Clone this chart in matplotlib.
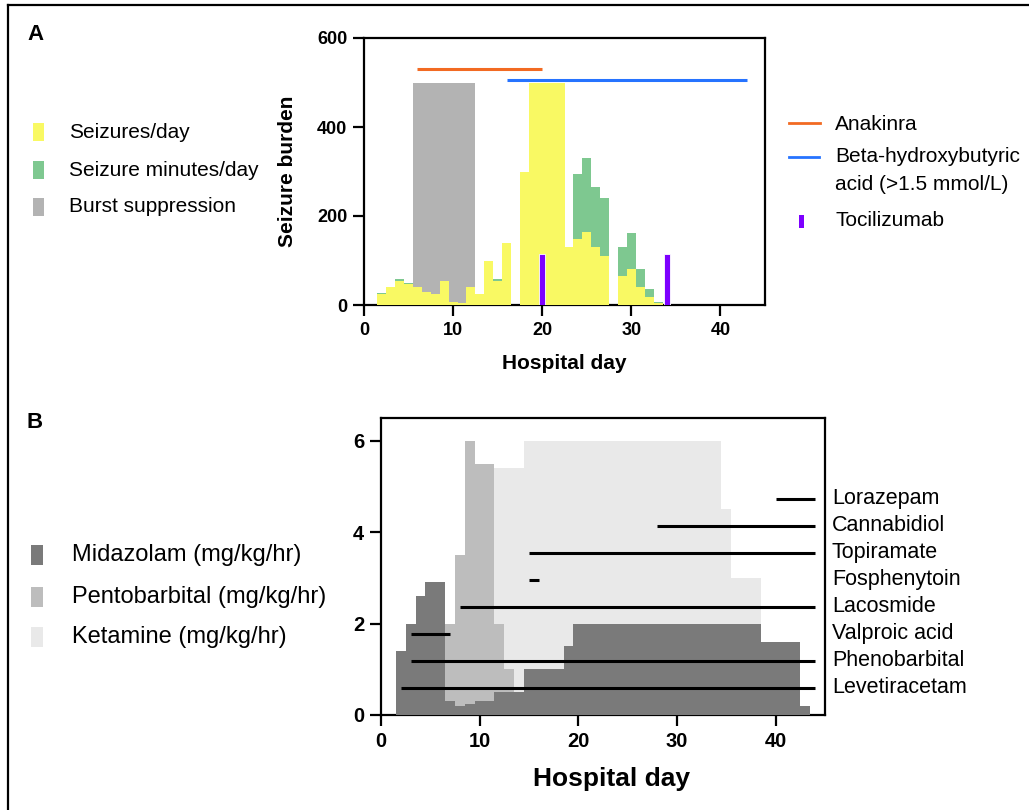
import numpy as np
import matplotlib
matplotlib.use("Agg")
import matplotlib.pyplot as plt
from matplotlib.patches import Rectangle
from matplotlib.lines import Line2D

plt.rcParams['font.family'] = ['Liberation Sans', 'DejaVu Sans']

# ---- Panel A data (hospital days 1..43) ----
days_a = np.arange(1, 44)
seizures_per_day = [0, 25, 40, 55, 47, 40, 29, 25, 55, 6,
                    5, 40, 25, 100, 55, 140, 0, 300, 500, 500,
                    500, 500, 130, 148, 165, 131, 111, 0, 66, 81,
                    40, 19, 4, 0, 0, 0, 0, 0, 0, 0,
                    0, 0, 0]
seizure_minutes = [0, 28, 0, 58, 50, 0, 0, 0, 0, 0,
                   0, 0, 0, 0, 58, 0, 0, 0, 0, 0,
                   0, 0, 0, 295, 331, 265, 240, 0, 131, 161,
                   81, 36, 7, 0, 0, 0, 0, 0, 0, 0,
                   0, 0, 0]
burst_days = [6, 7, 8, 9, 10, 11, 12]
burst_level = [500, 500, 500, 500, 500, 500, 500]
tocilizumab_days = [20, 34]
tocilizumab_height = [115, 115]
anakinra_span = (6, 20, 530)
bhb_span = (16, 43, 505)

# ---- Panel B data (hospital days 1..44) ----
days_b = np.arange(1, 45)
midazolam = [0, 1.4, 2.0, 2.6, 2.9, 2.9, 0.3, 0.2, 0.25, 0.3,
             0.3, 0.5, 0.5, 0.5, 1.0, 1.0, 1.0, 1.0, 1.5, 2.0,
             2.0, 2.0, 2.0, 2.0, 2.0, 2.0, 2.0, 2.0, 2.0, 2.0,
             2.0, 2.0, 2.0, 2.0, 2.0, 2.0, 2.0, 2.0, 1.6, 1.6,
             1.6, 1.6, 0.2, 0]
pentobarbital = [0, 0, 0, 0, 0, 0, 2.0, 3.5, 6.0, 5.5,
                 5.5, 2.0, 1.0, 0, 0, 0, 0, 0, 0, 0,
                 0, 0, 0, 0, 0, 0, 0, 0, 0, 0,
                 0, 0, 0, 0, 0, 0, 0, 0, 0, 0,
                 0, 0, 0, 0]
ketamine = [0, 0, 0, 0, 0, 0, 0, 0, 0, 0,
            0, 5.4, 5.4, 5.4, 6, 6, 6, 6, 6, 6,
            6, 6, 6, 6, 6, 6, 6, 6, 6, 6,
            6, 6, 6, 6, 4.5, 3, 3, 3, 0, 0,
            0, 0, 0, 0]
drug_names = ['Levetiracetam', 'Phenobarbital', 'Valproic acid', 'Lacosmide',
              'Fosphenytoin', 'Topiramate', 'Cannabidiol', 'Lorazepam']
drug_start = [2, 3, 3, 8, 15, 15, 28, 40]
drug_end = [44, 44, 7, 44, 16, 44, 44, 44]

YELLOW = '#f9f963'
GREEN = '#7ec890'
GRAY = '#b3b3b3'
ORANGE = '#f26a22'
BLUE = '#2673ff'
PURPLE = '#7d00ff'
MIDA = '#7a7a7a'
PENTO = '#bdbdbd'
KETA = '#e9e9e9'

W, H = 1029, 810
fig = plt.figure(figsize=(W / 100, H / 100), dpi=100)


def fx(px):
    return px / W


def fy(py):
    return 1 - py / H


# outer frame
fig.add_artist(Line2D([fx(8), 1], [fy(5), fy(5)], color='black', lw=1.6))
fig.add_artist(Line2D([fx(8), fx(8)], [fy(5), 0], color='black', lw=1.6))

# ================= Panel A =================
axA = fig.add_axes([fx(364), fy(305), (765 - 364) / W, (305 - 38) / H])
axA.bar(burst_days, burst_level, width=1, color=GRAY, linewidth=0, zorder=1)
axA.bar(days_a, seizure_minutes, width=1, color=GREEN, linewidth=0, zorder=2)
axA.bar(days_a, seizures_per_day, width=1, color=YELLOW, linewidth=0, zorder=3)
axA.bar(tocilizumab_days, tocilizumab_height, width=0.7, color=PURPLE,
        edgecolor='white', linewidth=0.6, zorder=4)
axA.hlines(anakinra_span[2], anakinra_span[0], anakinra_span[1], color=ORANGE, lw=2.2, zorder=5)
axA.hlines(bhb_span[2], bhb_span[0], bhb_span[1], color=BLUE, lw=2.2, zorder=5)

axA.set_xlim(0, 45)
axA.set_ylim(0, 600)
axA.set_xticks([0, 10, 20, 30, 40])
axA.set_yticks([0, 200, 400, 600])
axA.tick_params(width=1.6, length=8, labelsize=13, pad=4)
for lab in axA.get_xticklabels() + axA.get_yticklabels():
    lab.set_fontweight('bold')
for s in axA.spines.values():
    s.set_linewidth(1.6)
axA.set_xlabel('Hospital day', fontsize=15, fontweight='bold')
axA.set_ylabel('Seizure burden', fontsize=15, fontweight='bold')
axA.xaxis.set_label_coords(0.5, -0.185)
axA.yaxis.set_label_coords(-0.168, 0.5)

fig.text(fx(27), fy(35), 'A', fontsize=16, fontweight='bold', va='center')

# left legend A
legA_labels = ['Seizures/day', 'Seizure minutes/day', 'Burst suppression']
legA_colors = [YELLOW, GREEN, GRAY]
legA_y = [132, 170, 207]
for lab, col, yy in zip(legA_labels, legA_colors, legA_y):
    fig.add_artist(Rectangle((fx(33), fy(yy + 9)), 11 / W, 18 / H,
                             transform=fig.transFigure, color=col, lw=0))
    fig.text(fx(69), fy(yy), lab, fontsize=15, va='center')

# right legend A
fig.add_artist(Line2D([fx(789), fx(820)], [fy(123), fy(123)], color=ORANGE, lw=2))
fig.text(fx(835), fy(124), 'Anakinra', fontsize=15, va='center')
fig.add_artist(Line2D([fx(789), fx(819)], [fy(157), fy(157)], color=BLUE, lw=2))
fig.text(fx(835), fy(157), 'Beta-hydroxybutyric', fontsize=15, va='center')
fig.text(fx(835), fy(184), 'acid (>1.5 mmol/L)', fontsize=15, va='center')
fig.add_artist(Rectangle((fx(799), fy(228)), 5 / W, 13 / H,
                         transform=fig.transFigure, color=PURPLE, lw=0))
fig.text(fx(835), fy(221), 'Tocilizumab', fontsize=15, va='center')

# ================= Panel B =================
axB = fig.add_axes([fx(381), fy(715), (825 - 381) / W, (715 - 418) / H])
edges = np.append(days_b - 0.5, days_b[-1] + 0.5)
axB.stairs(ketamine, edges, fill=True, color=KETA, lw=0, zorder=1)
axB.stairs(pentobarbital, edges, fill=True, color=PENTO, lw=0, zorder=2)
axB.stairs(midazolam, edges, fill=True, color=MIDA, lw=0, zorder=3)

for i, (name, d0, d1) in enumerate(zip(drug_names, drug_start, drug_end)):
    yy = 0.6 + 0.59 * i
    axB.hlines(yy, d0, d1, color='black', lw=2.2, zorder=5)
    axB.text(45.7, yy, name, fontsize=15.5, va='center', ha='left', clip_on=False)

axB.set_xlim(0, 45)
axB.set_ylim(0, 6.5)
axB.set_xticks([0, 10, 20, 30, 40])
axB.set_yticks([0, 2, 4, 6])
axB.tick_params(width=1.6, length=8, labelsize=14.5, pad=4)
for lab in axB.get_xticklabels() + axB.get_yticklabels():
    lab.set_fontweight('bold')
for s in axB.spines.values():
    s.set_linewidth(1.6)
axB.set_xlabel('Hospital day', fontsize=19, fontweight='bold')
axB.xaxis.set_label_coords(0.52, -0.175)

fig.text(fx(27), fy(423), 'B', fontsize=16, fontweight='bold', va='center')

legB_labels = ['Midazolam (mg/kg/hr)', 'Pentobarbital (mg/kg/hr)', 'Ketamine (mg/kg/hr)']
legB_colors = [MIDA, PENTO, KETA]
legB_y = [555, 597, 637]
for lab, col, yy in zip(legB_labels, legB_colors, legB_y):
    fig.add_artist(Rectangle((fx(31), fy(yy + 10)), 12 / W, 20 / H,
                             transform=fig.transFigure, color=col, lw=0))
    fig.text(fx(72), fy(yy), lab, fontsize=17, va='center')

fig.savefig('out.png', dpi=100)
